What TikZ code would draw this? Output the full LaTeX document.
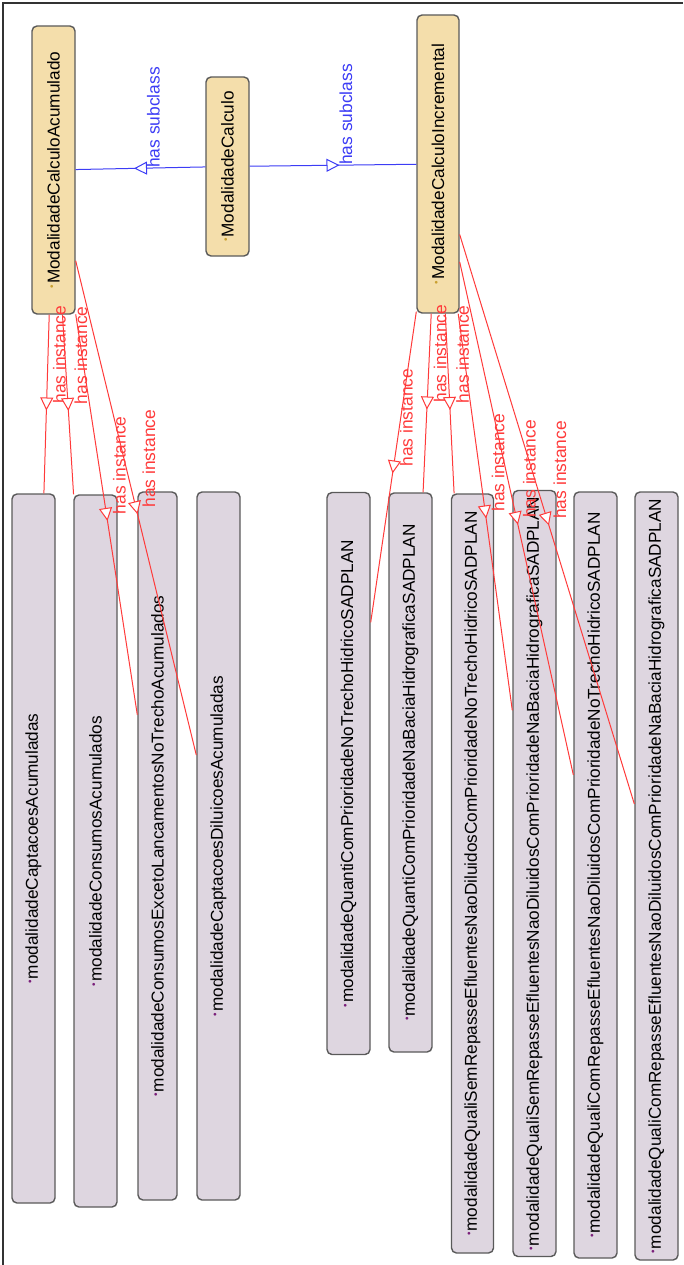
\documentclass[tikz,border=0pt]{standalone}
\usepackage{fontspec}
\setmainfont{Liberation Sans}
\usepackage{xcolor}
\usetikzlibrary{arrows.meta,decorations.markings}
\definecolor{classfill}{HTML}{F4DEAB}
\definecolor{instfill}{HTML}{DED6E0}
\definecolor{boxline}{HTML}{5A5A5A}
\definecolor{classdot}{HTML}{C9A030}
\definecolor{instdot}{HTML}{7A1F7A}
\definecolor{subblue}{HTML}{3C3CF5}
\definecolor{instred}{HTML}{FF3A3A}
\definecolor{framecol}{HTML}{333333}
\newcommand{\ontodot}[1]{\textcolor{#1}{\raisebox{4.5pt}{\fontsize{10}{10}\selectfont\textbullet}}\kern1pt}
\tikzset{
  box/.style={draw=boxline, line width=1.4pt, rounded corners=5pt, rotate=90, inner sep=0pt, font=\fontsize{17.2}{20}\selectfont, text=black},
  cls/.style={box, fill=classfill},
  inst/.style={box, fill=instfill},
  midarrow/.style={postaction={decorate, decoration={markings,
    mark=at position 0.5 with {\pgftransformxshift{6.5pt}\arrow[#1]{Triangle[length=13pt,width=13pt,fill=white]}}}}},
  subedge/.style={draw=subblue, line width=1pt, midarrow=subblue},
  instedge/.style={draw=instred, line width=1pt, midarrow=instred},
  lab/.style={midway, rotate=90, anchor=north west, inner xsep=0pt, inner ysep=6pt, font=\fontsize{17.4}{20}\selectfont},
  sublab/.style={lab, text=subblue},
  instlab/.style={lab, text=instred},
}
\begin{document}
\begin{tikzpicture}[x=1pt,y=-1pt]
\useasboundingbox (0,0) rectangle (683,1265);
% frame
\draw[framecol, line width=1.8pt] (3,1265) -- (3,3) -- (683,3);

% classes
\node[cls, minimum width=288pt, minimum height=43pt] (calcAcum) at (53.5,170) {\ontodot{classdot}ModalidadeCalculoAcumulado};
\node[cls, minimum width=179pt, minimum height=43pt] (calc) at (227.5,166.5) {\ontodot{classdot}ModalidadeCalculo};
\node[cls, minimum width=298pt, minimum height=42pt] (calcIncr) at (438,164) {\ontodot{classdot}ModalidadeCalculoIncremental};

% instances
\foreach \n/\x/\y/\l/\w/\t in {
  captAcum/33.5/848.5/709/43/modalidadeCaptacoesAcumuladas,
  consAcum/95.5/851/712/43/modalidadeConsumosAcumulados,
  consExcAcum/157.5/846/708/39/modalidadeConsumosExcetoLancamentosNoTrechoAcumulados,
  captDilAcum/218.5/846/708/43/modalidadeCaptacoesDiluicoesAcumuladas,
  quantTrecho/348.5/773.5/562/43/modalidadeQuantiComPrioridadeNoTrechoHidricoSADPLAN,
  quantBacia/410.5/772.5/559/43/modalidadeQuantiComPrioridadeNaBaciaHidrograficaSADPLAN,
  qualiSemTrecho/472.5/873.5/759/42/modalidadeQualiSemRepasseEfluentesNaoDiluidosComPrioridadeNoTrechoHidricoSADPLAN,
  qualiSemBacia/534.5/873.5/766/43/modalidadeQualiSemRepasseEfluentesNaoDiluidosComPrioridadeNaBaciaHidrograficaSADPLAN,
  qualiComTrecho/595.5/875/766/43/modalidadeQualiComRepasseEfluentesNaoDiluidosComPrioridadeNoTrechoHidricoSADPLAN,
  qualiComBacia/656.5/876/768/43/modalidadeQualiComRepasseEfluentesNaoDiluidosComPrioridadeNaBaciaHidrograficaSADPLAN}{
  \node[inst, minimum width=\l pt, minimum height=\w pt] (\n) at (\x,\y) {\ontodot{instdot}\t};
}

% has subclass
\draw[subedge] (calc) -- node[sublab] {has subclass} (calcAcum);
\draw[subedge] (calc) -- node[sublab] {has subclass} (calcIncr);

% has instance
\foreach \i in {captAcum,consAcum,consExcAcum,captDilAcum}
  \draw[instedge] (calcAcum) -- node[instlab] {has instance} (\i);
\foreach \i in {quantTrecho,quantBacia,qualiSemTrecho,qualiSemBacia,qualiComTrecho,qualiComBacia}
  \draw[instedge] (calcIncr) -- node[instlab] {has instance} (\i);
\end{tikzpicture}
\end{document}
